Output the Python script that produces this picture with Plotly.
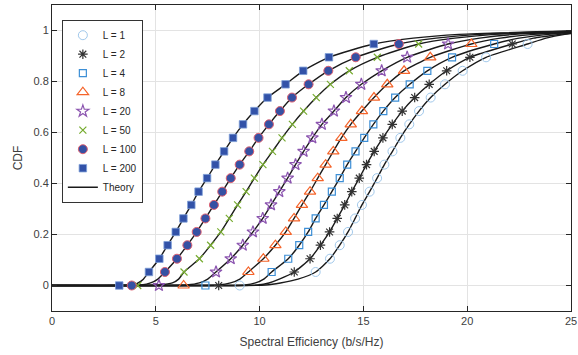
import plotly.graph_objects as go

# CDF levels at which the simulated points are shown
cdf_levels = [0, 0.053, 0.105, 0.158, 0.21, 0.263, 0.316, 0.368, 0.421, 0.474,
              0.526, 0.579, 0.632, 0.684, 0.737, 0.789, 0.842, 0.895, 0.947]

series_names = ["L = 1", "L = 2", "L = 4", "L = 8", "L = 20", "L = 50", "L = 100", "L = 200"]

se_L1 = [9.04, 12.70, 13.39, 13.86, 14.26, 14.60, 14.93, 15.30, 15.66, 16.01,
         16.40, 16.78, 17.21, 17.68, 18.24, 18.93, 19.78, 20.91, 22.91]
se_L2 = [8.03, 11.67, 12.43, 12.93, 13.37, 13.74, 14.10, 14.44, 14.80, 15.15,
         15.52, 15.94, 16.39, 16.87, 17.47, 18.17, 19.01, 20.13, 22.17]
se_L4 = [7.39, 10.58, 11.38, 11.91, 12.34, 12.70, 13.10, 13.48, 13.86, 14.22,
         14.62, 15.04, 15.48, 15.96, 16.53, 17.23, 18.08, 19.27, 21.30]
se_L8 = [6.34, 9.46, 10.18, 10.76, 11.26, 11.66, 12.04, 12.43, 12.80, 13.18,
         13.55, 13.94, 14.39, 14.93, 15.51, 16.15, 16.96, 18.22, 20.20]
se_L20 = [5.15, 7.90, 8.61, 9.19, 9.68, 10.15, 10.55, 10.95, 11.35, 11.73,
          12.12, 12.54, 13.00, 13.58, 14.16, 14.90, 15.88, 17.11, 19.08]
se_L50 = [4.13, 6.36, 7.10, 7.64, 8.13, 8.54, 8.94, 9.35, 9.75, 10.16,
          10.62, 11.08, 11.58, 12.12, 12.73, 13.41, 14.32, 15.67, 17.66]
se_L100 = [3.84, 5.44, 6.02, 6.52, 6.97, 7.39, 7.80, 8.20, 8.61, 9.04,
           9.50, 9.95, 10.45, 10.98, 11.56, 12.36, 13.31, 14.63, 16.71]
se_L200 = [3.24, 4.67, 5.17, 5.57, 5.96, 6.33, 6.71, 7.06, 7.47, 7.87,
           8.29, 8.72, 9.20, 9.75, 10.38, 11.25, 12.10, 13.34, 15.50]

# Theory curves: lower tail (x at CDF levels below), upper tail and value at x = 25
theory_low_levels = [0, 0, 0.002, 0.01, 0.025]
theory_up_levels = [0.97, 0.985]
theory_low_L1 = [0, 9.3, 10.3, 11.0, 11.85]
theory_low_L2 = [0, 8.8, 9.9, 10.45, 10.95]
theory_low_L4 = [0, 8.2, 9.3, 9.8, 10.2]
theory_low_L8 = [0, 7.0, 8.0, 8.6, 9.05]
theory_low_L20 = [0, 5.5, 6.5, 7.1, 7.5]
theory_low_L50 = [0, 4.3, 5.2, 5.8, 6.1]
theory_low_L100 = [0, 3.7, 4.3, 4.75, 5.1]
theory_low_L200 = [0, 3.5, 3.95, 4.15, 4.4]
theory_up_L1 = [23.8, 24.7]
theory_up_L2 = [23.2, 24.5]
theory_up_L4 = [22.5, 23.9]
theory_up_L8 = [21.6, 23.2]
theory_up_L20 = [20.6, 22.3]
theory_up_L50 = [19.4, 21.3]
theory_up_L100 = [18.5, 20.5]
theory_up_L200 = [17.4, 19.6]
theory_end_x = 25
theory_end_cdf = [0.988, 0.99, 0.992, 0.993, 0.995, 0.996, 0.997, 0.998]

se_all = [se_L1, se_L2, se_L4, se_L8, se_L20, se_L50, se_L100, se_L200]
low_all = [theory_low_L1, theory_low_L2, theory_low_L4, theory_low_L8,
           theory_low_L20, theory_low_L50, theory_low_L100, theory_low_L200]
up_all = [theory_up_L1, theory_up_L2, theory_up_L4, theory_up_L8,
          theory_up_L20, theory_up_L50, theory_up_L100, theory_up_L200]

styles = [
    dict(symbol="circle-open", size=9, color="rgba(160,200,235,1)", line=dict(width=1, color="rgba(160,200,235,1)")),
    dict(symbol="asterisk-open", size=8, color="#333333", line=dict(width=1.2, color="#333333")),
    dict(symbol="square-open", size=7, color="#3d8fd6", line=dict(width=1.2, color="#3d8fd6")),
    dict(symbol="triangle-up-open", size=10, color="#f5642a", line=dict(width=1.2, color="#f5642a")),
    dict(symbol="star-open", size=9, color="#8c55b0", line=dict(width=1.2, color="#8c55b0")),
    dict(symbol="x-thin-open", size=7, color="#77ac30", line=dict(width=1.2, color="#77ac30")),
    dict(symbol="circle", size=9, color="#3651a3", line=dict(width=1, color="#e06070")),
    dict(symbol="square", size=7.5, color="#3252a8", line=dict(width=0.8, color="#7f9fd8")),
]

fig = go.Figure()

for i in range(len(series_names)):
    tx = low_all[i] + se_all[i][1:] + up_all[i] + [theory_end_x]
    ty = theory_low_levels + cdf_levels[1:] + theory_up_levels + [theory_end_cdf[i]]
    fig.add_trace(go.Scatter(
        x=tx, y=ty, mode="lines", name="Theory",
        line=dict(color="#1a1a1a", width=1.4, shape="spline", smoothing=0.6),
        showlegend=(i == 0), legendrank=2000, hoverinfo="skip"))

for i, name in enumerate(series_names):
    fig.add_trace(go.Scatter(
        x=se_all[i], y=cdf_levels, mode="markers", name=name,
        marker=styles[i], legendrank=1000 + i))

axis_common = dict(
    showline=True, linecolor="#262626", linewidth=1, mirror="allticks",
    ticks="inside", ticklen=5, tickcolor="#262626", automargin=False,
    showgrid=True, gridcolor="#e3e3e3", gridwidth=1, zeroline=False,
    tickfont=dict(family="Liberation Sans, Arial", size=11, color="#404040"),
)

fig.update_xaxes(range=[0, 25], tickvals=[0, 5, 10, 15, 20, 25], **axis_common,
                 title=dict(text="Spectral Efficiency (b/s/Hz)", standoff=11,
                            font=dict(family="Liberation Sans, Arial", size=12, color="#404040")))
fig.update_yaxes(range=[-0.1, 1.1], tickvals=[0, 0.2, 0.4, 0.6, 0.8, 1],
                 ticktext=["0", "0.2", "0.4", "0.6", "0.8", "1"], **axis_common,
                 title=dict(text="CDF", standoff=8,
                            font=dict(family="Liberation Sans, Arial", size=12, color="#404040")))

fig.update_layout(
    width=578, height=355,
    margin=dict(l=52, r=7, t=5, b=44, autoexpand=False),
    plot_bgcolor="white", paper_bgcolor="white",
    legend=dict(x=0.019, y=0.952, xanchor="left", yanchor="top",
                bgcolor="white", bordercolor="#333333", borderwidth=1,
                font=dict(family="Liberation Sans, Arial", size=10, color="#262626"),
                itemwidth=30, tracegroupgap=0),
)

fig.write_html("out.html", config={"displayModeBar": False},
               post_script="document.body.style.margin='0';document.body.style.overflow='hidden';")
